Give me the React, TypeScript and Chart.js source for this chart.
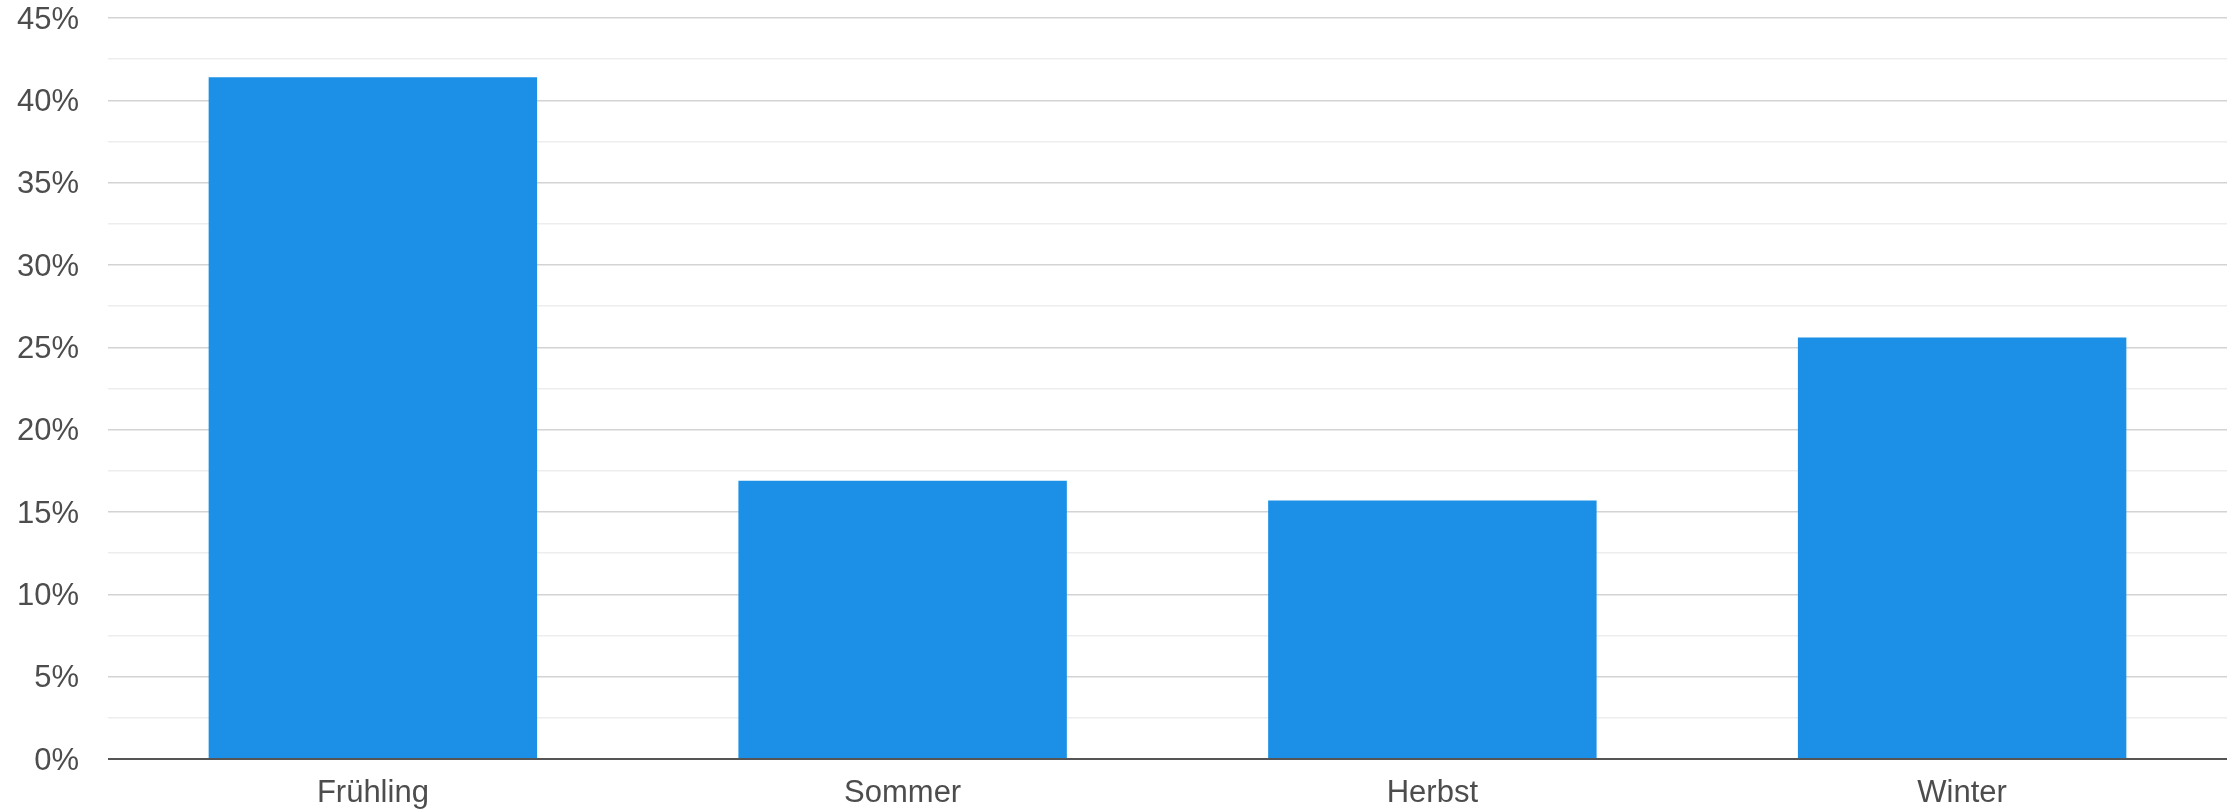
import React, { useEffect, useRef } from "react";
import { Chart, registerables } from "chart.js";

Chart.register(...registerables);

const categories = ["Frühling", "Sommer", "Herbst", "Winter"];
const shares = [41.4, 16.9, 15.7, 25.6];
const yMax = 45;
const yStep = 2.5;
const labelEvery = 5;

export default function App() {
  const ref = useRef<HTMLCanvasElement | null>(null);

  useEffect(() => {
    document.body.style.margin = "0";
    if (!ref.current) return;
    const chart = new Chart(ref.current, {
      type: "bar",
      data: {
        labels: categories,
        datasets: [
          {
            data: shares,
            backgroundColor: "#1b90e6",
            borderWidth: 0,
            categoryPercentage: 0.62,
            barPercentage: 1,
          },
        ],
      },
      options: {
        responsive: false,
        animation: false,
        layout: { padding: { left: 0, right: 10, top: 18, bottom: 0 } },
        plugins: { legend: { display: false }, tooltip: { enabled: false } },
        scales: {
          x: {
            grid: { display: false },
            border: { display: false },
            ticks: {
              color: "#4d4d4d",
              padding: 8,
              font: { family: "'Liberation Sans', Arial, sans-serif", size: 31 },
            },
            afterFit: (s: any) => {
              s.height = 51;
              s.paddingLeft = 0;
              s.paddingRight = 0;
            },
          },
          y: {
            min: 0,
            max: yMax,
            border: { display: false },
            grid: {
              drawTicks: false,
              color: (c: any) =>
                c.tick.value === 0
                  ? "#555"
                  : c.tick.value % labelEvery === 0
                  ? "#d3d3d3"
                  : "#ededed",
              lineWidth: (c: any) => (c.tick.value === 0 ? 2 : 1.5),
            },
            ticks: {
              stepSize: yStep,
              color: "#4d4d4d",
              padding: 29,
              labelOffset: 2,
              autoSkip: false,
              font: { family: "'Liberation Sans', Arial, sans-serif", size: 31 },
              callback: (v: any) => (Number(v) % labelEvery === 0 ? `${v}%` : ""),
            },
            afterFit: (s: any) => {
              s.width = 108;
              s.paddingTop = 0;
              s.paddingBottom = 0;
            },
          },
        },
      },
    });
    return () => chart.destroy();
  }, []);

  return (
    <div style={{ width: 2237, height: 810, background: "#fff" }}>
      <canvas ref={ref} width={2237} height={810} />
    </div>
  );
}
